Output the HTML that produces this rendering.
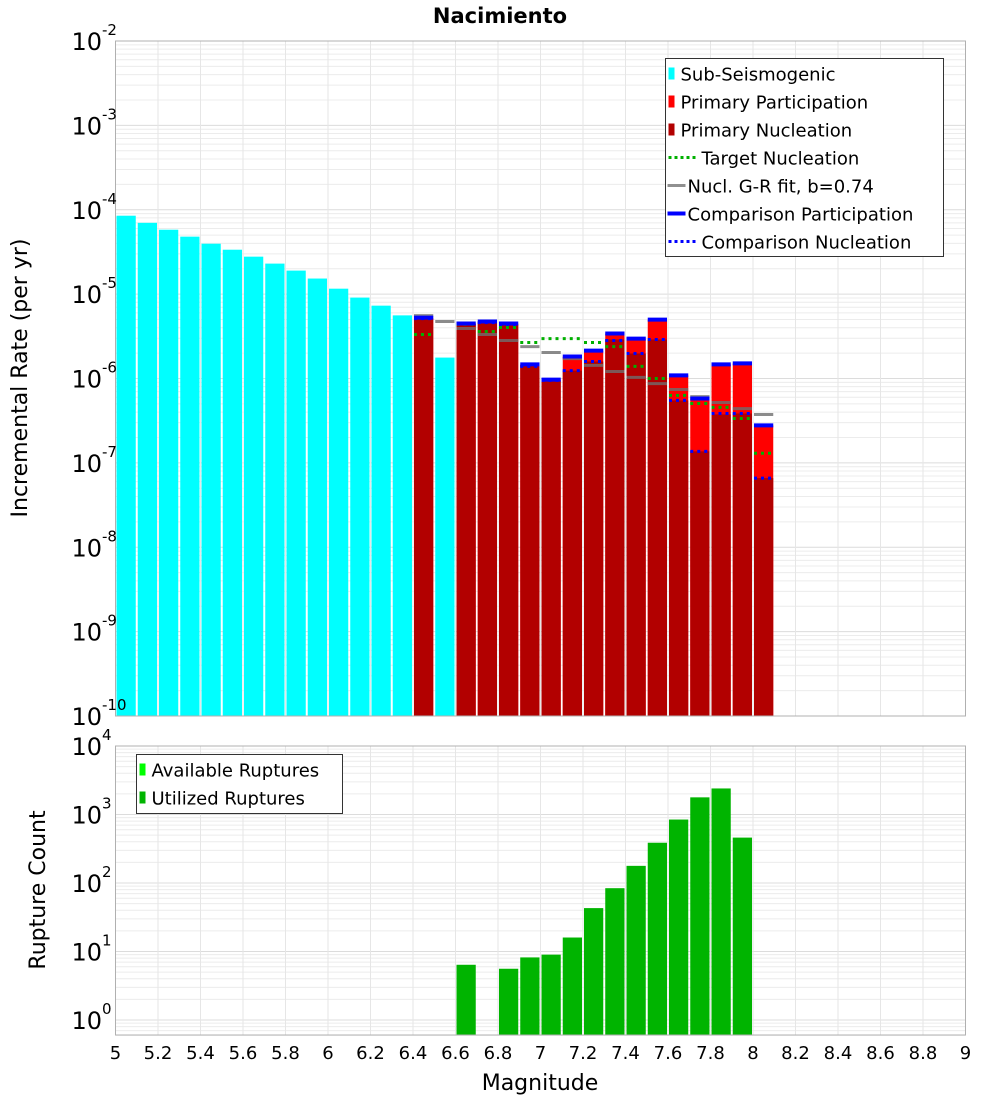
<!DOCTYPE html>
<html><head><meta charset="utf-8"><style>
body{margin:0;background:#fff;}
svg{display:block;font-family:"DejaVu Sans","Liberation Sans",sans-serif;}
</style></head><body>
<svg id="chart" width="1000" height="1100" viewBox="0 0 1000 1100" xmlns="http://www.w3.org/2000/svg">
<text x="500" y="23" text-anchor="middle" font-size="21" font-weight="bold">Nacimiento</text>
<g id="gtop"></g><g id="gbot"></g>
<text transform="translate(27,378) rotate(-90)" text-anchor="middle" font-size="22">Incremental Rate (per yr)</text>
<text transform="translate(45,890) rotate(-90)" text-anchor="middle" font-size="22">Rupture Count</text>
<text x="540" y="1090" text-anchor="middle" font-size="22">Magnitude</text>
</svg>
<script>
// ---- data ----
const subMags=[5.05,5.15,5.25,5.35,5.45,5.55,5.65,5.75,5.85,5.95,6.05,6.15,6.25,6.35,6.55];
const subRates=[8.5e-5,7.0e-5,5.8e-5,4.8e-5,3.96e-5,3.36e-5,2.78e-5,2.30e-5,1.90e-5,1.53e-5,1.16e-5,9.1e-6,7.3e-6,5.6e-6,1.77e-6];
const primMags=[6.45,6.65,6.75,6.85,6.95,7.05,7.15,7.25,7.35,7.45,7.55,7.65,7.75,7.85,7.95,8.05];
const partRates=[5.27e-6,4.48e-6,4.73e-6,4.48e-6,1.47e-6,9.7e-7,1.82e-6,2.14e-6,3.41e-6,2.97e-6,4.99e-6,1.09e-6,5.8e-7,1.47e-6,1.51e-6,2.78e-7];
const nuclRates=[5.13e-6,4.48e-6,4.60e-6,4.36e-6,1.43e-6,9.5e-7,1.24e-6,1.59e-6,2.90e-6,1.98e-6,2.90e-6,5.5e-7,1.37e-7,3.75e-7,3.85e-7,6.6e-8];
const targetRates=[3.32e-6,4.4e-6,3.60e-6,4.02e-6,2.67e-6,2.97e-6,2.97e-6,2.67e-6,2.39e-6,1.39e-6,1.00e-6,6.3e-7,5.06e-7,4.54e-7,3.36e-7,1.30e-7];
const grMags=[6.45,6.55,6.65,6.75,6.85,6.95,7.05,7.15,7.25,7.35,7.45,7.55,7.65,7.75,7.85,7.95,8.05];
const grRates=[5.57e-6,4.73e-6,3.91e-6,3.32e-6,2.82e-6,2.39e-6,2.03e-6,1.72e-6,1.43e-6,1.21e-6,1.03e-6,8.7e-7,7.4e-7,6.1e-7,5.2e-7,4.4e-7,3.75e-7];
const compPartRates=[5.27e-6,4.48e-6,4.73e-6,4.48e-6,1.47e-6,9.7e-7,1.82e-6,2.14e-6,3.41e-6,2.97e-6,4.99e-6,1.09e-6,5.8e-7,1.47e-6,1.51e-6,2.78e-7];
const compNuclRates=[5.13e-6,4.48e-6,4.60e-6,4.36e-6,1.39e-6,9.5e-7,1.24e-6,1.59e-6,2.82e-6,1.98e-6,2.90e-6,5.5e-7,1.37e-7,3.85e-7,3.85e-7,6.6e-8];
const countMags=[6.65,6.85,6.95,7.05,7.15,7.25,7.35,7.45,7.55,7.65,7.75,7.85,7.95];
const counts=[6.4,5.6,8.2,9.0,16,43,84,178,387,844,1780,2400,460];
const xTicks=[5,5.2,5.4,5.6,5.8,6,6.2,6.4,6.6,6.8,7,7.2,7.4,7.6,7.8,8,8.2,8.4,8.6,8.8,9];
const xTickLabels=["5","5.2","5.4","5.6","5.8","6","6.2","6.4","6.6","6.8","7","7.2","7.4","7.6","7.8","8","8.2","8.4","8.6","8.8","9"];
const topExps=[-2,-3,-4,-5,-6,-7,-8,-9,-10];
const botExps=[0,1,2,3,4];
// ---- scales ----
const X0=115.5,X1=965.5,T0=41,T1=716,B0=746,B1=1035;
const xs=m=>X0+(m-5)/4*(X1-X0);
const ys=v=>T0+(-2-Math.log10(v))/8*(T1-T0);
const yb=c=>1020-Math.log10(c)*68.5;
const NS="http://www.w3.org/2000/svg";
function mk(parent,tag,attrs){const e=document.createElementNS(NS,tag);for(const k in attrs)e.setAttribute(k,attrs[k]);parent.appendChild(e);return e;}
const gTop=document.getElementById('gtop'),gBot=document.getElementById('gbot');
function grid(g,y0,y1,exps,yf){
  for(const e of exps){for(let k=1;k<10;k++){const y=yf(k*Math.pow(10,e));if(y<y0-0.5||y>y1+0.5)continue;
    const l=mk(g,'line',{x1:X0,x2:X1,y1:y,y2:y,stroke:k==1?'#dcdcdc':'#ececec','stroke-width':1});
    
    }}
  for(const t of xTicks){const l=mk(g,'line',{x1:xs(t),x2:xs(t),y1:y0,y2:y1,stroke:'#e6e6e6','stroke-width':1});
    
    }
}
grid(gTop,T0,T1,[-10,-9,-8,-7,-6,-5,-4,-3,-2],ys);
grid(gBot,B0,B1,[-1,0,1,2,3],yb);
function bar(g,m,y,ybase,fill,name){const r=mk(g,'rect',{x:xs(m-0.05)+1,y:y,width:xs(m+0.05)-xs(m-0.05)-2,height:Math.max(0,ybase-y),fill:fill});
  
  }
function seg(g,m,v,col,w,dash,name){const a={x1:xs(m-0.05)+1,x2:xs(m+0.05)-1,y1:ys(v),y2:ys(v),stroke:col,'stroke-width':w};if(dash)a['stroke-dasharray']=dash;
  const l=mk(g,'line',a);
  
  }
subMags.forEach((m,i)=>bar(gTop,m,ys(subRates[i]),T1,'#00ffff','sub-seismogenic-bar'));
primMags.forEach((m,i)=>bar(gTop,m,ys(partRates[i]),T1,'#ff0000','participation-bar'));
primMags.forEach((m,i)=>bar(gTop,m,ys(nuclRates[i]),T1,'#b20000','nucleation-bar'));
grMags.forEach((m,i)=>seg(gTop,m,grRates[i],'rgba(110,110,110,0.8)',3,null,'gr-fit-segment'));
primMags.forEach((m,i)=>seg(gTop,m,targetRates[i],'#00b000',3,'3,4','target-nucleation-segment'));
primMags.forEach((m,i)=>seg(gTop,m,compPartRates[i],'#0000ff',4,null,'comparison-participation-segment'));
primMags.forEach((m,i)=>seg(gTop,m,compNuclRates[i],'#0000ff',3,'3,4','comparison-nucleation-segment'));
countMags.forEach((m,i)=>bar(gBot,m,yb(counts[i]),B1,'#00b400','utilized-ruptures-bar'));
const svg=document.getElementById('chart');
[[T0,T1,'top-plot-frame'],[B0,B1,'bottom-plot-frame']].forEach(([a,b,n])=>{const r=mk(svg,'rect',{x:X0,y:a,width:X1-X0,height:b-a,fill:'none',stroke:'#b0b0b0','stroke-width':1});
  
  });
function powLabel(g,y,e,name){const t=mk(g,'text',{x:102,y:y+9,'text-anchor':'end','font-size':24});t.textContent='10';
  
  
  const s=mk(g,'text',{x:102,y:y-6,'font-size':15});s.textContent=String(e);
  
  }
topExps.forEach(e=>powLabel(svg,ys(Math.pow(10,e)),e,'y-tick-label-top'));
botExps.forEach(e=>powLabel(svg,yb(Math.pow(10,e)),e,'y-tick-label-bottom'));
xTicks.forEach((t,i)=>{const tx=mk(svg,'text',{x:xs(t),y:1059,'text-anchor':'middle','font-size':18});tx.textContent=xTickLabels[i];
  
  });
function legend(x,y,w,h,items,name){const g=mk(svg,'g',{});
  
  
  mk(g,'rect',{x:x,y:y,width:w,height:h,fill:'#fff',stroke:'#333','stroke-width':1});
  items.forEach((it,i)=>{const cy=y+15+i*28;const [type,col,label]=it;let tx=x+15;
    if(type=='box'){mk(g,'rect',{x:x+3,y:cy-6,width:6,height:12,fill:col});}
    else if(type=='line'){mk(g,'line',{x1:x+2,x2:x+20,y1:cy,y2:cy,stroke:col,'stroke-width':col=='#0000ff'?4:3});tx=x+22;}
    else {mk(g,'line',{x1:x+3,x2:x+33,y1:cy,y2:cy,stroke:col,'stroke-width':3,'stroke-dasharray':'3,3'});tx=x+36;}
    const t=mk(g,'text',{x:tx,y:cy+7,'font-size':18});t.textContent=label;
    
    });}
legend(665.5,58.5,278,198,[['box','#00ffff','Sub-Seismogenic'],['box','#ff0000','Primary Participation'],['box','#b20000','Primary Nucleation'],['dot','#00b000','Target Nucleation'],['line','#909090','Nucl. G-R fit, b=0.74'],['line','#0000ff','Comparison Participation'],['dot','#0000ff','Comparison Nucleation']],'top-legend');
legend(136.5,754.5,206,59,[['box','#00ff00','Available Ruptures'],['box','#00b400','Utilized Ruptures']],'bottom-legend');
</script>
</body></html>
